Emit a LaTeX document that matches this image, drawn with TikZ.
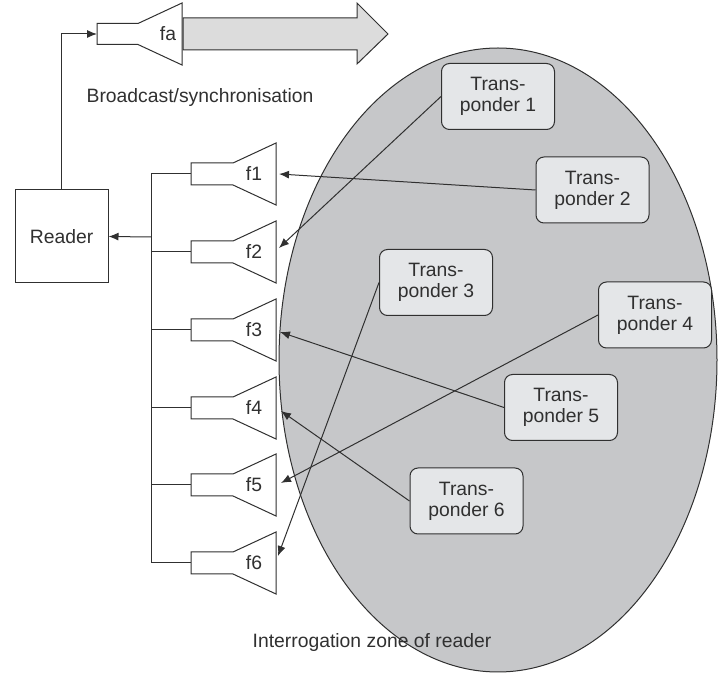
\documentclass[tikz,border=0pt]{standalone}
\usepackage{fontspec}
\setmainfont{Liberation Sans}
\usetikzlibrary{arrows.meta}

\definecolor{zonegray}{HTML}{C6C7C9}
\definecolor{tagfill}{HTML}{E4E6E8}
\definecolor{beamfill}{HTML}{DCDCDC}
\definecolor{inkgray}{HTML}{303030}

\tikzset{every picture/.style={line width=0.75pt}}
\tikzset{
  lbl/.style={inner sep=0.75pt, text=inkgray, font=\fontsize{14.5}{15.75}\selectfont},
  tagbox/.style={lbl, draw=inkgray, fill=tagfill, rounded corners=6pt, align=center,
    minimum width=84.75pt, minimum height=49.5pt},
  horn/.style={draw=inkgray, fill=white},
  link/.style={draw=inkgray, -{Latex[length=7.5pt,width=6pt]}}
}

\begin{document}
\begin{tikzpicture}[x=0.75pt,y=0.75pt,yscale=-1,xscale=1]
\useasboundingbox (0,0) rectangle (722,680);

%Shape: Ellipse [id:zone]
\draw [draw=inkgray, fill=zonegray] (498,360) ellipse (219 and 312);

%Shape: Broadcast arrow [id:beam]
\draw [draw=inkgray, fill=beamfill] (183,18) -- (357,18) -- (357,3) -- (388,34) -- (357,64) -- (357,50) -- (183,50) -- cycle ;

%Shape: Horn fa
\draw [horn] (97,23.5) -- (138,23.5) -- (182,3) -- (182,65) -- (138,44.5) -- (97,44.5) -- cycle ;
%Shape: Horn f1
\draw [horn] (191,163) -- (233,163) -- (276,143) -- (276,205) -- (233,185) -- (191,185) -- cycle ;
%Shape: Horn f2
\draw [horn] (191,241) -- (233,241) -- (276,221) -- (276,283) -- (233,263) -- (191,263) -- cycle ;
%Shape: Horn f3
\draw [horn] (191,319) -- (233,319) -- (276,299) -- (276,361) -- (233,341) -- (191,341) -- cycle ;
%Shape: Horn f4
\draw [horn] (191,397) -- (233,397) -- (276,377) -- (276,439) -- (233,419) -- (191,419) -- cycle ;
%Shape: Horn f5
\draw [horn] (191,474) -- (233,474) -- (276,454) -- (276,516) -- (233,496) -- (191,496) -- cycle ;
%Shape: Horn f6
\draw [horn] (191,552) -- (233,552) -- (276,532) -- (276,594) -- (233,574) -- (191,574) -- cycle ;

% Text Node
\node [lbl] (fa) at (168,34) {fa};
\node [lbl] (f1) at (254,174) {f1};
\node [lbl] (f2) at (254,252) {f2};
\node [lbl] (f3) at (254,330) {f3};
\node [lbl] (f4) at (254,408) {f4};
\node [lbl] (f5) at (254,485) {f5};
\node [lbl] (f6) at (254,563) {f6};

% Horn ends
\coordinate (fain) at (97,34);
\coordinate (m1) at (279,174);
\coordinate (m2) at (279,248);
\coordinate (m3) at (280,332);
\coordinate (m4) at (281,411);
\coordinate (m5) at (281,483);
\coordinate (m6) at (278,556);
\coordinate (bus) at (151,237);
\coordinate (bustop) at (151,174);
\coordinate (busbot) at (151,563);

% Reader
\node [lbl, draw=inkgray, fill=white, minimum width=69.75pt, minimum height=69.75pt] (reader) at (61.5,236.5) {Reader};

% Bus lines
\draw [inkgray] (bustop) -- (busbot);
\draw [inkgray] (bustop) -- (191,174);
\draw [inkgray] (151,252) -- (191,252);
\draw [inkgray] (151,330) -- (191,330);
\draw [inkgray] (151,408) -- (191,408);
\draw [inkgray] (151,485) -- (191,485);
\draw [inkgray] (busbot) -- (191,563);
\draw [link] (bus) -- (reader.east);
\draw [link] (reader.north) |- (fain);

% Transponders
\node [tagbox] (tp1) at (498,96.5) {Trans-\\ponder 1};
\node [tagbox] (tp2) at (592.5,190) {Trans-\\ponder 2};
\node [tagbox] (tp3) at (436,282.5) {Trans-\\ponder 3};
\node [tagbox] (tp4) at (655,315) {Trans-\\ponder 4};
\node [tagbox] (tp5) at (561,407.5) {Trans-\\ponder 5};
\node [tagbox] (tp6) at (466.5,501) {Trans-\\ponder 6};

% Links
\draw [link] (tp1.west) -- (m2);
\draw [link] (tp2.west) -- (m1);
\draw [link] (tp3.west) -- (m6);
\draw [link] (tp4.west) -- (m5);
\draw [link] (tp5.west) -- (m3);
\draw [link] (tp6.west) -- (m4);

% Text Node
\node [lbl] (bcast) at (200,98) {Broadcast/synchronisation};
\node [lbl] (zone) at (372,643) {Interrogation zone of reader};
\end{tikzpicture}
\end{document}
